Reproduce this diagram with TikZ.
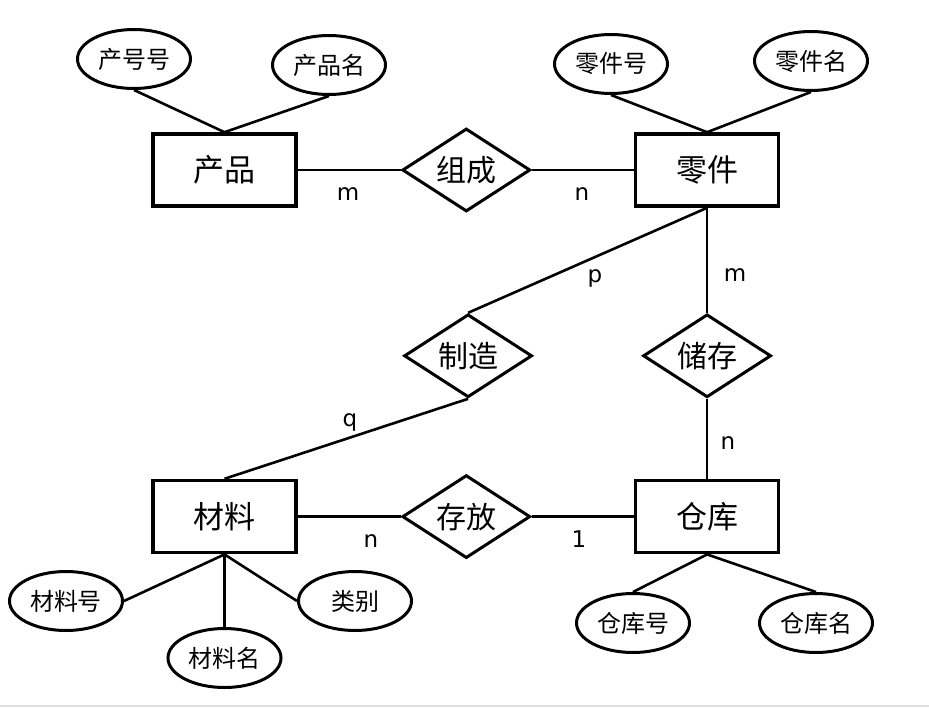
\documentclass[tikz,border=0pt]{standalone}
\usepackage{fontspec}
\setmainfont{DejaVu Sans}
\newfontfamily\cjk{Noto Sans CJK SC}
\usepackage{tikz}
\usetikzlibrary{shapes.geometric, positioning}

\begin{document}
\begin{tikzpicture}[
    x=1pt, y=-1pt,
    entity/.style={rectangle, draw, line width=3.6pt,
                minimum width=143pt, minimum height=72pt, inner sep=0pt,
                font=\cjk\fontsize{31}{36}\selectfont},
    relation/.style={diamond, draw, line width=3pt, aspect=1.5,
                minimum width=128pt, minimum height=83pt, inner sep=0pt,
                font=\cjk\fontsize{30}{36}\selectfont},
    attr/.style={ellipse, draw, line width=3pt,
                minimum width=113pt, minimum height=59pt, inner sep=0pt,
                font=\cjk\fontsize{24}{28}\selectfont},
    link/.style={line width=2.6pt},
    card/.style={inner sep=0pt, font=\fontsize{23}{26}\selectfont}
]
    \useasboundingbox (0,0) rectangle (929,707);

    % Entities
    \node[entity] (chanpin) at (224.5,170) {产品};
    \node[entity, right=336pt of chanpin] (lingjian) {零件};
    \node[entity, below=271pt of chanpin] (cailiao) {材料};
    \node[entity, below=271pt of lingjian] (cangku) {仓库};

    % Relationships
    \node[relation, right=103pt of chanpin] (zucheng) {组成};
    \node[relation, below=105pt of lingjian] (chucun) {储存};
    \node[relation, left=108pt of chucun] (zhizao) {制造};
    \node[relation, right=103pt of cailiao] (cunfang) {存放};

    % Attributes
    \node[attr] (chanpinhao) at (134,59) {产号号};
    \node[attr] (chanpinming) at (329,65) {产品名};
    \node[attr] (lingjianhao) at (611,64) {零件号};
    \node[attr] (lingjianming) at (811,61) {零件名};
    \node[attr] (cailiaohao) at (66,601) {材料号};
    \node[attr] (cailiaoming) at (224.5,658) {材料名};
    \node[attr] (leibie) at (355,601) {类别};
    \node[attr] (cangkuhao) at (633,623) {仓库号};
    \node[attr] (cangkuming) at (816,623) {仓库名};

    % Attribute links
    \draw[link] (chanpinhao.south) -- (chanpin.north);
    \draw[link] (chanpinming.south) -- (chanpin.north);
    \draw[link] (lingjianhao.south) -- (lingjian.north);
    \draw[link] (lingjianming.south) -- (lingjian.north);
    \draw[link] (cailiaohao.east) -- (cailiao.south);
    \draw[link] (cailiaoming.north) -- (cailiao.south);
    \draw[link] (leibie.west) -- (cailiao.south);
    \draw[link] (cangkuhao.north) -- (cangku.south);
    \draw[link] (cangkuming.north) -- (cangku.south);

    % Relationship links
    \draw[link] (chanpin) -- (zucheng);
    \draw[link] (zucheng) -- (lingjian);
    \draw[link] (lingjian.south) -- (zhizao.north);
    \draw[link] (lingjian) -- (chucun);
    \draw[link] (zhizao.south) -- (cailiao.north);
    \draw[link] (chucun) -- (cangku);
    \draw[link] (cailiao) -- (cunfang);
    \draw[link] (cunfang) -- (cangku);

    % Cardinalities
    \node[card] (m1) at (348,194.5) {m};
    \node[card] (n1) at (582,194) {n};
    \node[card] (p1) at (595,278) {p};
    \node[card] (m2) at (735,275) {m};
    \node[card] (q1) at (350,422) {q};
    \node[card] (n2) at (728,443) {n};
    \node[card] (n3) at (371,541.5) {n};
    \node[card] (o1) at (579,539) {1};

    \draw[gray!25, line width=2pt] (0,705.5) -- (929,705.5);
\end{tikzpicture}
\end{document}
